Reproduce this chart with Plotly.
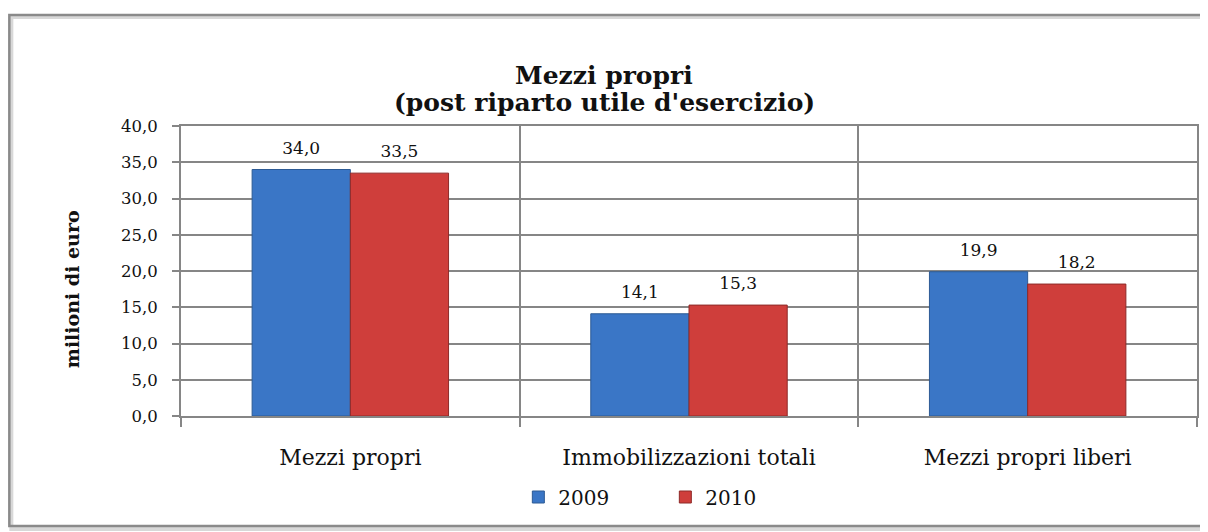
import plotly.graph_objects as go

categories = ["Mezzi propri", "Immobilizzazioni totali", "Mezzi propri liberi"]
series_names = ["2009", "2010"]
values_2009 = [34.0, 14.1, 19.9]
values_2010 = [33.5, 15.3, 18.2]
y_ticks = [0, 5, 10, 15, 20, 25, 30, 35, 40]
title_lines = ["Mezzi propri", "(post riparto utile d'esercizio)"]

FONT = "DejaVu Serif"
x_pos = list(range(len(categories)))
series = [values_2009, values_2010]
fills = ["#3a76c6", "#cf3e3b"]
edges = ["#2c5a94", "#8e2a28"]

# page body has an 8px margin; figure is sized to fit inside the window
OFF = 8
W, H = 1200, 524
L, T = 181 - OFF, 126 - OFF
R = W - (1199 - OFF)
B = H - (416 - OFF)
pw, ph = W - L - R, H - T - B


def px(x):
    return (x - OFF - L) / pw


def py(y):
    return (H - B - (y - OFF)) / ph


fig = go.Figure()
for name, vals, fc, ec in zip(series_names, series, fills, edges):
    fig.add_trace(go.Bar(
        x=x_pos, y=vals, name=name, offsetgroup=name,
        marker=dict(color=fc, line=dict(color=ec, width=1)),
    ))
for name, vals in zip(series_names, series):
    fig.add_trace(go.Scatter(
        x=x_pos, y=vals, mode="markers+text", offsetgroup=name,
        text=[f"{v:.1f}".replace(".", ",") for v in vals],
        textposition="top center",
        marker=dict(size=17, opacity=0, color="white"),
        textfont=dict(family=FONT, size=17, color="#111"),
        showlegend=False, hoverinfo="skip", cliponaxis=False,
    ))

annotations = [dict(
    text="<b>milioni di euro</b>", textangle=-90,
    xref="paper", yref="paper", x=px(72), y=py(289),
    xanchor="center", yanchor="middle", showarrow=False,
    font=dict(family=FONT, size=19, color="#111"),
)]
for line, yc in zip(title_lines, [75, 103]):
    annotations.append(dict(
        text=f"<b>{line}</b>", xref="paper", yref="paper",
        x=px(605), y=py(yc), xanchor="center", yanchor="middle",
        showarrow=False, font=dict(family=FONT, size=25, color="#111"),
    ))

fig.update_layout(
    width=W, height=H,
    margin=dict(l=L, r=R, t=T, b=B),
    paper_bgcolor="white", plot_bgcolor="white",
    separators=",.",
    barmode="group", bargap=0.42, bargroupgap=0,
    scattermode="group", scattergap=0.42,
    font=dict(family=FONT, color="#111"),
    showlegend=True,
    legend=dict(
        orientation="h", x=px(519), xanchor="left", y=py(497), yanchor="middle",
        font=dict(family=FONT, size=20, color="#111"),
        itemwidth=30, entrywidth=102,
        bgcolor="rgba(0,0,0,0)",
    ),
    xaxis=dict(
        range=[-0.5, 2.5],
        tickmode="array", tickvals=x_pos, ticktext=categories,
        ticks="", showgrid=False,
        tickfont=dict(family=FONT, size=22, color="#111"),
        ticklabelstandoff=21,
        showline=True, linecolor="#868686", linewidth=2, mirror=True,
        zeroline=False,
        minor=dict(tick0=-0.5, dtick=1, showgrid=True, gridcolor="#868686",
                   gridwidth=1.5, ticks="outside", ticklen=9, tickcolor="#868686",
                   tickwidth=1.5),
    ),
    yaxis=dict(
        range=[0, 40], tickmode="array", tickvals=y_ticks, tickformat=".1f",
        showgrid=True, gridcolor="#868686", gridwidth=1.5,
        ticks="outside", ticklen=7, tickcolor="#868686", tickwidth=1.5,
        tickfont=dict(family=FONT, size=16.5, color="#111"),
        ticklabelstandoff=11,
        showline=True, linecolor="#868686", linewidth=2, mirror=True,
        zeroline=False,
    ),
    annotations=annotations,
    shapes=[
        dict(type="rect", xref="paper", yref="paper",
             x0=px(11), x1=px(1209), y0=py(529), y1=py(17),
             line=dict(color="#d8d8d8", width=4), layer="below"),
        dict(type="rect", xref="paper", yref="paper",
             x0=px(9), x1=px(1206), y0=py(526), y1=py(15),
             line=dict(color="#8a8a8a", width=2.5), layer="below"),
    ],
)

fig.write_html("out.html")
